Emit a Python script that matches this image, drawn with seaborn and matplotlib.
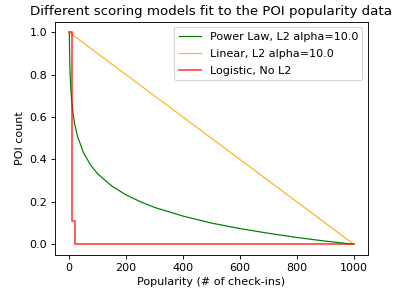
import matplotlib
matplotlib.use('Agg')
import matplotlib.pyplot as plt
import seaborn as sns

# values
power_x = [1, 2, 3, 5, 7, 10, 15, 20, 30, 50, 75, 100, 150, 200, 250, 300,
           400, 500, 600, 700, 800, 900, 1000]
power_y = [1.0, 0.90, 0.84, 0.767, 0.718, 0.667, 0.608, 0.566, 0.508, 0.434,
           0.375, 0.333, 0.275, 0.233, 0.201, 0.174, 0.133, 0.100, 0.074,
           0.052, 0.032, 0.015, 0.0]

linear_x = [0, 1000]
linear_y = [1.0, 0.0]

logistic_x = [0, 10, 10, 20, 20, 1000]
logistic_y = [1.0, 1.0, 0.11, 0.11, 0.0, 0.0]

labels = ['Power Law, L2 alpha=10.0', 'Linear, L2 alpha=10.0', 'Logistic, No L2']

fig, ax = plt.subplots(figsize=(397 / 80, 288 / 80), dpi=80)
sns.lineplot(x=power_x, y=power_y, color='green', linewidth=1.1, sort=False,
             estimator=None, label=labels[0], ax=ax)
sns.lineplot(x=linear_x, y=linear_y, color='orange', linewidth=1.1, alpha=0.85,
             sort=False, estimator=None, label=labels[1], ax=ax)
sns.lineplot(x=logistic_x, y=logistic_y, color='red', linewidth=1.6, alpha=0.7,
             sort=False, estimator=None, label=labels[2], ax=ax)

ax.set_title('Different scoring models fit to the POI popularity data')
ax.set_xlabel('Popularity (# of check-ins)')
ax.set_ylabel('POI count')
ax.legend(loc='upper right', labelspacing=0.65)

plt.subplots_adjust(left=0.138, right=0.927, top=0.925, bottom=0.115)
plt.savefig('out.png', dpi=80)
